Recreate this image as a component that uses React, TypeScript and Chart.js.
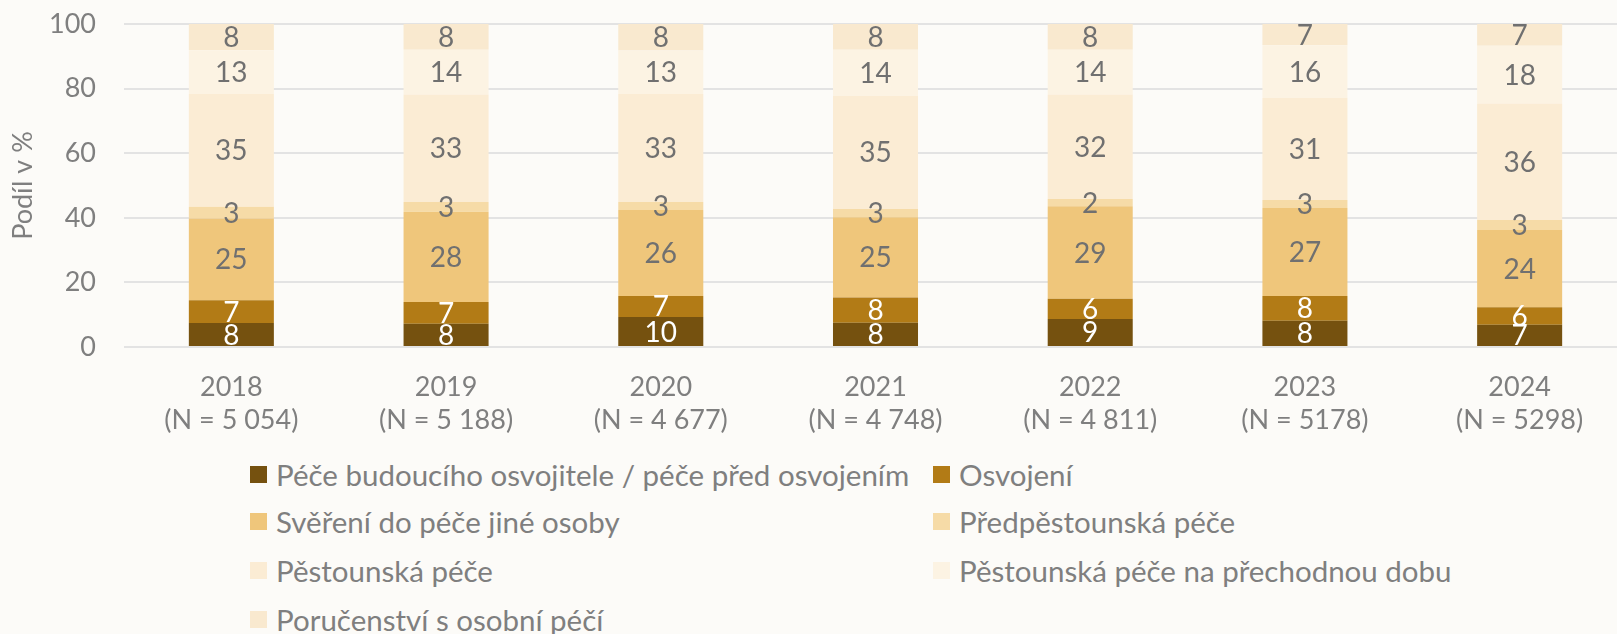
import React, { useEffect, useRef } from "react";
import { Chart, registerables } from "chart.js";

Chart.register(...registerables);

const years = ["2018", "2019", "2020", "2021", "2022", "2023", "2024"];
const sampleSizes = ["5 054", "5 188", "4 677", "4 748", "4 811", "5178", "5298"];

const pecePredOsvojenim = [7.4, 7.2, 9.3, 7.5, 8.7, 8.1, 6.9];
const pecePredOsvojenimLabels = [8, 8, 10, 8, 9, 8, 7];
const osvojeni = [7.1, 6.7, 6.5, 7.8, 6.2, 7.7, 5.4];
const osvojeniLabels = [7, 7, 7, 8, 6, 8, 6];
const svereni = [25.3, 28.0, 26.6, 24.9, 28.7, 27.2, 23.9];
const sverenLabels = [25, 28, 26, 25, 29, 27, 24];
const predpestounska = [3.6, 3.0, 2.5, 2.5, 2.2, 2.5, 3.1];
const predpestounskaLabels = [3, 3, 3, 3, 2, 3, 3];
const pestounska = [35.0, 33.3, 33.5, 35.1, 32.4, 31.7, 36.1];
const pestounskaLabels = [35, 33, 33, 35, 32, 31, 36];
const prechodna = [13.5, 13.8, 13.4, 14.2, 13.8, 16.2, 17.9];
const prechodnaLabels = [13, 14, 13, 14, 14, 16, 18];
const porucenstvi = [8.1, 8.0, 8.2, 8.0, 8.0, 6.6, 6.7];
const porucenstviLabels = [8, 8, 8, 8, 8, 7, 7];

const yTicks = [0, 20, 40, 60, 80, 100];

const FONT = "Lato, 'Noto Sans', sans-serif";
const BG = "#fcfbf8";
const TEXT = "#7f7f7f";

const series = [
  { name: "Péče budoucího osvojitele / péče před osvojením", data: pecePredOsvojenim, labels: pecePredOsvojenimLabels, color: "#75510f", labelColor: "#ffffff" },
  { name: "Osvojení", data: osvojeni, labels: osvojeniLabels, color: "#b27b16", labelColor: "#ffffff" },
  { name: "Svěření do péče jiné osoby", data: svereni, labels: sverenLabels, color: "#efc67b", labelColor: "#707070" },
  { name: "Předpěstounská péče", data: predpestounska, labels: predpestounskaLabels, color: "#f6dba7", labelColor: "#707070" },
  { name: "Pěstounská péče", data: pestounska, labels: pestounskaLabels, color: "#fbecd4", labelColor: "#707070" },
  { name: "Pěstounská péče na přechodnou dobu", data: prechodna, labels: prechodnaLabels, color: "#fcf3e3", labelColor: "#707070" },
  { name: "Poručenství s osobní péčí", data: porucenstvi, labels: porucenstviLabels, color: "#f9e9cf", labelColor: "#707070" },
];

const segmentLabels = {
  id: "segmentLabels",
  afterDatasetsDraw(chart: any) {
    const ctx = chart.ctx;
    ctx.save();
    ctx.font = `28px ${FONT}`;
    ctx.textAlign = "center";
    ctx.textBaseline = "middle";
    chart.data.datasets.forEach((ds: any, di: number) => {
      const meta = chart.getDatasetMeta(di);
      meta.data.forEach((bar: any, i: number) => {
        const s = series[di];
        ctx.fillStyle = s.labelColor;
        const cy = (bar.y + bar.base) / 2;
        ctx.fillText(String(s.labels[i]), bar.x, cy + 1);
      });
    });
    ctx.restore();
  },
};

export default function App() {
  const ref = useRef<HTMLCanvasElement | null>(null);

  useEffect(() => {
    if (!ref.current) return;
    const chart = new Chart(ref.current, {
      type: "bar",
      data: {
        labels: years.map((y, i) => [y, `(N = ${sampleSizes[i]})`]),
        datasets: series.map((s) => ({
          label: s.name,
          data: s.data,
          backgroundColor: s.color,
          borderWidth: 0,
          categoryPercentage: 1,
          barPercentage: 0.396,
        })),
      },
      options: {
        responsive: false,
        animation: false,
        devicePixelRatio: 1,
        layout: { padding: { top: 24, right: 0, bottom: 0, left: 0 } },
        plugins: {
          legend: { display: false },
          tooltip: { enabled: false },
        },
        scales: {
          x: {
            stacked: true,
            grid: { display: false },
            border: { display: false },
            ticks: {
              color: TEXT,
              font: { family: FONT, size: 27, lineHeight: 1.25 },
              padding: 15,
              maxRotation: 0,
            },
            afterFit(scale: any) {
              scale.height = 93;
            },
          },
          y: {
            stacked: true,
            min: 0,
            max: 100,
            afterBuildTicks(scale: any) {
              scale.ticks = yTicks.map((v) => ({ value: v }));
            },
            grid: { color: "#e3e3e3", lineWidth: 2, drawTicks: false },
            border: { display: false },
            ticks: {
              color: TEXT,
              font: { family: FONT, size: 27 },
              padding: 28,
            },
            title: {
              display: true,
              text: "Podíl v %",
              color: TEXT,
              font: { family: FONT, size: 27 },
              padding: { top: 7, bottom: 0 },
            },
            afterFit(scale: any) {
              scale.width = 124;
              scale.paddingTop = 0;
              scale.paddingBottom = 0;
            },
          },
        },
      },
      plugins: [segmentLabels],
    });
    return () => chart.destroy();
  }, []);

  const legendRows = [
    [0, 1],
    [2, 3],
    [4, 5],
    [6],
  ];
  const rowY = [474, 521, 570, 619];
  const colX = [250, 933];

  return (
    <div style={{ position: "fixed", left: 0, top: 0, width: 1617, height: 634, background: BG, overflow: "hidden" }}>
      <canvas ref={ref} width={1627} height={440} style={{ position: "absolute", left: 0, top: 0, width: 1627, height: 440 }} />
      {legendRows.map((row, ri) =>
        row.map((si, ci) => (
          <div
            key={si}
            style={{
              position: "absolute",
              left: colX[ci],
              top: rowY[ri] - 20,
              height: 40,
              display: "flex",
              alignItems: "center",
              whiteSpace: "nowrap",
              fontFamily: FONT,
              fontSize: 29.5,
              color: TEXT,
            }}
          >
            <span style={{ display: "inline-block", width: 17, height: 17, background: series[si].color, marginRight: 9 }} />
            <span>{series[si].name}</span>
          </div>
        ))
      )}
    </div>
  );
}
